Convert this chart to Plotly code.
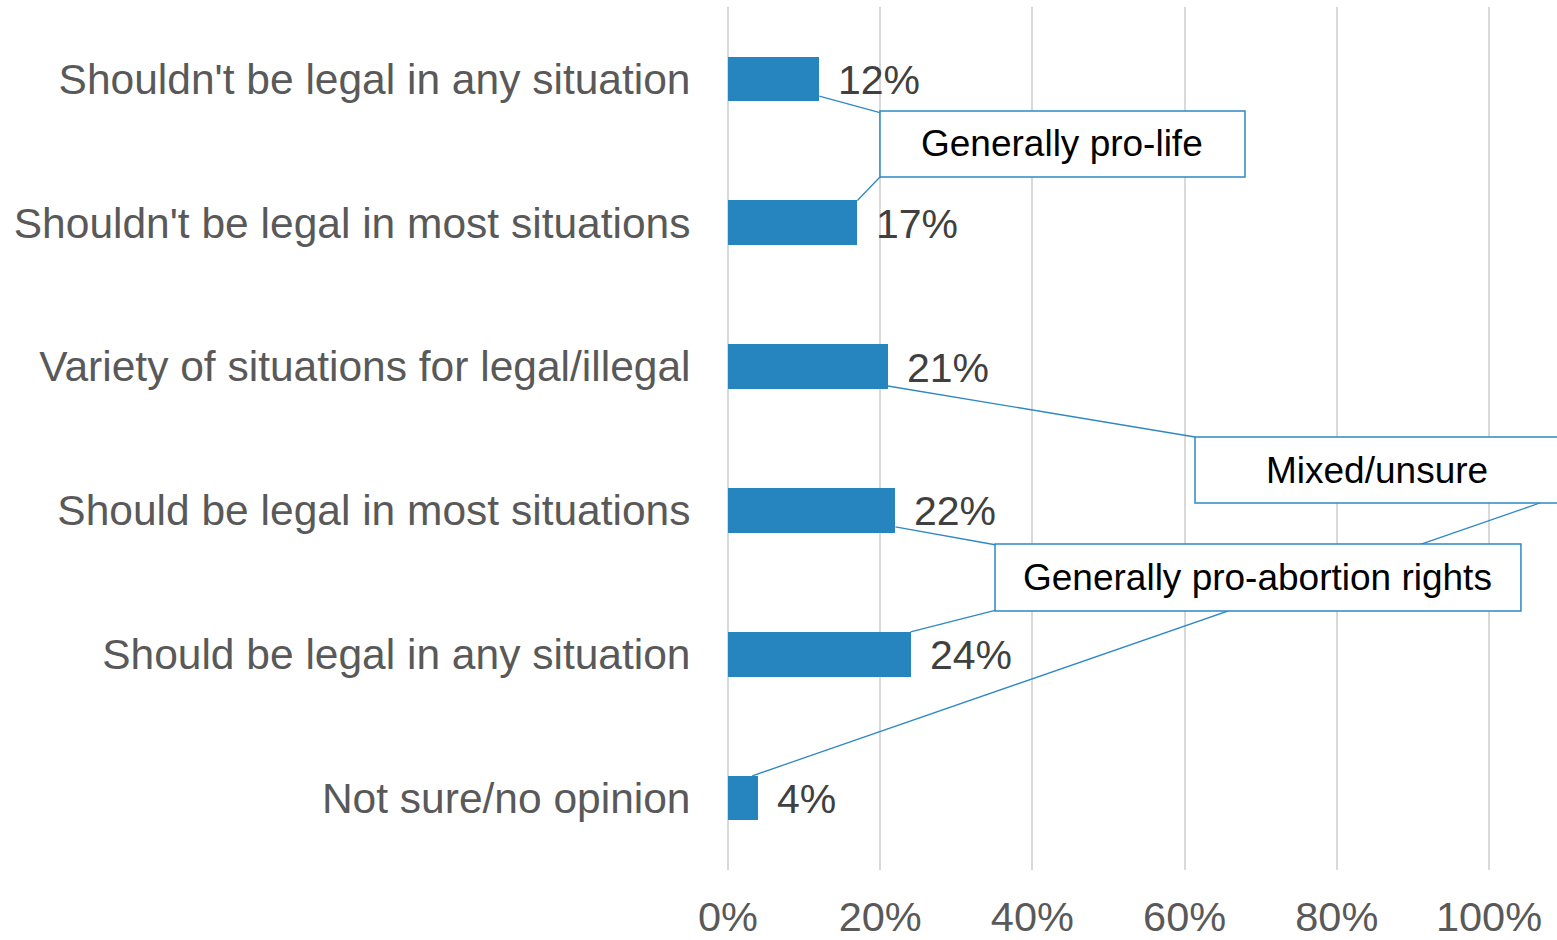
import plotly.graph_objects as go

# Survey responses on legality of abortion (share of respondents, %)
categories = [
    "Shouldn't be legal in any situation",
    "Shouldn't be legal in most situations",
    "Variety of situations for legal/illegal",
    "Should be legal in most situations",
    "Should be legal in any situation",
    "Not sure/no opinion",
]
values = [12, 17, 21, 22, 24, 4]
value_labels = ["12%", "17%", "21%", "22%", "24%", "4%"]

x_tick_vals = [0, 20, 40, 60, 80, 100]
x_tick_text = ["0%", "20%", "40%", "60%", "80%", "100%"]

# Grouping callouts: label text and the bars each callout points to
group_names = ["Generally pro-life", "Mixed/unsure", "Generally pro-abortion rights"]
group_members = [[0, 1], [2, 5], [3, 4]]

BAR = "#2684BF"
EDGE = "#2E88C4"
BAR_W = 0.31
HALF = BAR_W / 2

idx = list(range(len(categories)))

fig = go.Figure(
    go.Bar(
        x=values,
        y=idx,
        orientation="h",
        width=BAR_W,
        marker=dict(color=BAR, line=dict(width=0)),
        hoverinfo="skip",
    )
)

# value labels to the right of each bar
annotations = []
for i, (v, t) in enumerate(zip(values, value_labels)):
    annotations.append(dict(
        x=v, y=i, xref="x", yref="y", text=t, showarrow=False,
        xanchor="left", yanchor="middle", xshift=17, yshift=-1,
        font=dict(family="Liberation Sans, Arial", size=41, color="#404040"),
    ))

# callout boxes (x0, x1, y0, y1) in axis units
boxes = [
    (19.97, 67.94, 0.2225, 0.6815),
    (61.37, 109.2, 2.4896, 2.9485),
    (35.09, 104.2, 3.2337, 3.6996),
]

# leader lines from bars to their callout boxes
a, b = group_members[0]
bx = boxes[0]
lines = [
    ((values[a], a + 0.12), (bx[0], bx[2] + 0.012)),
    ((values[b], b - HALF), (bx[0], bx[3])),
]
a, b = group_members[1]
bx = boxes[1]
lines += [
    ((values[a], a + 0.135), (bx[0], bx[2])),
    ((values[b] - 0.8, b - HALF), (106.7, bx[3])),
]
a, b = group_members[2]
bx = boxes[2]
lines += [
    ((values[a], a + 0.115), (bx[0], bx[2] + 0.005)),
    ((values[b], b - HALF), (bx[0], bx[3] - 0.005)),
]

shapes = []
for (x0, y0), (x1, y1) in lines:
    shapes.append(dict(type="line", xref="x", yref="y", x0=x0, y0=y0, x1=x1, y1=y1,
                       line=dict(color=EDGE, width=1.3), layer="above"))
for (x0, x1, y0, y1), name in zip(boxes, group_names):
    shapes.append(dict(type="rect", xref="x", yref="y", x0=x0, x1=x1, y0=y0, y1=y1,
                       fillcolor="white", line=dict(color=EDGE, width=1.5), layer="above"))
    annotations.append(dict(
        x=(x0 + min(x1, 109.2)) / 2, y=(y0 + y1) / 2, xref="x", yref="y",
        text=name, showarrow=False, xanchor="center", yanchor="middle",
        font=dict(family="Liberation Sans, Arial", size=37, color="#000000"),
    ))

fig.update_layout(
    width=1557,
    height=940,
    margin=dict(l=728, r=0, t=7, b=70),
    paper_bgcolor="white",
    plot_bgcolor="white",
    showlegend=False,
    bargap=0,
    shapes=shapes,
    annotations=annotations,
    xaxis=dict(
        range=[0, 108.94],
        tickvals=x_tick_vals,
        ticktext=x_tick_text,
        showgrid=True,
        gridcolor="#D9D9D9",
        gridwidth=1.5,
        zeroline=True,
        zerolinecolor="#D9D9D9",
        zerolinewidth=1.5,
        showline=False,
        ticks="outside",
        ticklen=10,
        tickcolor="rgba(0,0,0,0)",
        tickfont=dict(family="Liberation Sans, Arial", size=41.5, color="#595959"),
        automargin=False,
        fixedrange=True,
    ),
    yaxis=dict(
        range=[5.5, -0.5],
        tickvals=idx,
        ticktext=categories,
        showgrid=False,
        zeroline=False,
        showline=False,
        ticks="outside",
        ticklen=28,
        tickcolor="rgba(0,0,0,0)",
        tickfont=dict(family="Liberation Sans, Arial", size=42.5, color="#595959"),
        automargin=False,
        fixedrange=True,
    ),
)

fig.write_html("out.html")
